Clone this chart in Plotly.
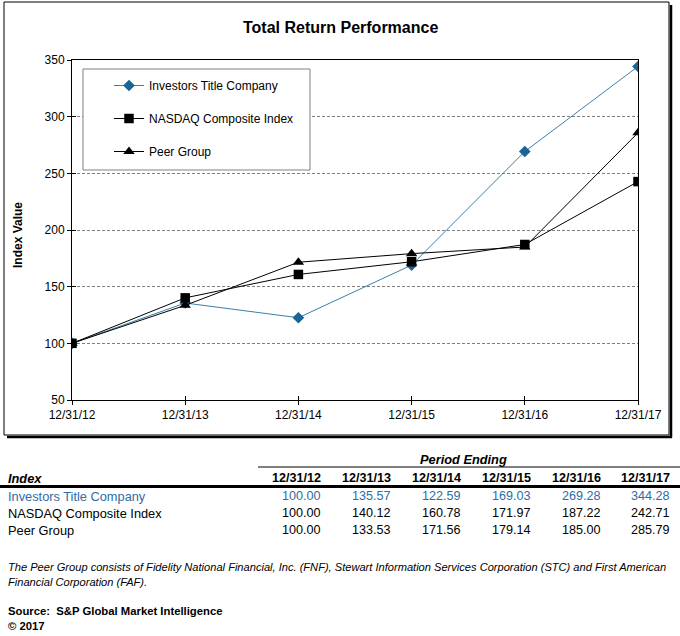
import plotly.graph_objects as go

W, H = 680, 636

dates = ["12/31/12", "12/31/13", "12/31/14", "12/31/15", "12/31/16", "12/31/17"]
itc = [100.00, 135.57, 122.59, 169.03, 269.28, 344.28]
nasdaq = [100.00, 140.12, 160.78, 171.97, 187.22, 242.71]
peer = [100.00, 133.53, 171.56, 179.14, 185.00, 285.79]
series_names = ["Investors Title Company", "NASDAQ Composite Index", "Peer Group"]

title = "Total Return Performance"
y_title = "Index Value"
footnote1 = "The Peer Group consists of Fidelity National Financial, Inc. (FNF), Stewart Information Services Corporation (STC) and First American"
footnote2 = "Financial Corporation (FAF)."
source1 = "Source:  S&P Global Market Intelligence"
source2 = "\u00a9 2017"

FONT = "Liberation Sans"
BLUE_LINE = "#3C7FA8"
BLUE_MK = "#1B6496"
BLUE_TXT = "#2E6CA3"


def px(x):
    return x / W


def py(y):
    return 1 - y / H


def label(text, x, y, size=12, color="black", xanchor="left", angle=0):
    return dict(text=text, x=px(x), y=py(y), xref="paper", yref="paper", xanchor=xanchor,
                yanchor="middle", showarrow=False, textangle=angle,
                font=dict(family=FONT, size=size, color=color))


fig = go.Figure()
fig.add_trace(go.Scatter(x=dates, y=itc, name=series_names[0], mode="lines+markers",
                         line=dict(color=BLUE_LINE, width=1),
                         marker=dict(symbol="diamond", size=9, color=BLUE_MK),
                         legendgroup="a"))
fig.add_trace(go.Scatter(x=dates, y=nasdaq, name=series_names[1], mode="lines+markers",
                         line=dict(color="black", width=1),
                         marker=dict(symbol="square", size=9.5, color="black"),
                         legendgroup="b"))
fig.add_trace(go.Scatter(x=dates, y=peer, name=series_names[2], mode="lines+markers",
                         line=dict(color="black", width=1),
                         marker=dict(symbol="triangle-up", size=10, color="black"),
                         legendgroup="c"))
# helper trace so the overlay axes (inner half of crossing ticks) are drawn
fig.add_trace(go.Scatter(x=[], y=[], xaxis="x2", yaxis="y2", showlegend=False, hoverinfo="skip"))

shapes = []
# outer frame with shadow
shapes.append(dict(type="rect", xref="paper", yref="paper", x0=px(4), x1=px(669), y0=py(2), y1=py(435),
                   line=dict(color="black", width=1), layer="below"))
shapes.append(dict(type="line", xref="paper", yref="paper", x0=px(671), x1=px(671), y0=py(5), y1=py(437.5),
                   line=dict(color="black", width=2.5), layer="below"))
shapes.append(dict(type="line", xref="paper", yref="paper", x0=px(7), x1=px(672), y0=py(437), y1=py(437),
                   line=dict(color="black", width=2.5), layer="below"))
# legend box
shapes.append(dict(type="rect", xref="paper", yref="paper", x0=px(83), x1=px(310), y0=py(69), y1=py(170),
                   line=dict(color="#808080", width=1), fillcolor="white", layer="above"))
# table lines
shapes.append(dict(type="line", xref="paper", yref="paper", x0=px(258), x1=px(680), y0=py(467), y1=py(467),
                   line=dict(color="black", width=1)))
shapes.append(dict(type="line", xref="paper", yref="paper", x0=px(0), x1=px(680), y0=py(486.5), y1=py(486.5),
                   line=dict(color="black", width=3)))

ann = []
ann.append(label("<b>" + title + "</b>", 340, 27, size=16, xanchor="center"))
ann.append(label("<b>" + y_title + "</b>", 18, 235, size=12, xanchor="center", angle=-90))
ann.append(label("<b><i>Period Ending</i></b>", 463, 460, size=12.8, xanchor="center"))
ann.append(label("<b><i>Index</i></b>", 6, 478, size=12.8))
col_right = [323, 393, 463, 533, 603, 672]
for d, xr in zip(dates, col_right):
    ann.append(label("<b>" + d + "</b>", xr, 478, size=12.6, xanchor="right"))
rows = [(series_names[0], itc, BLUE_TXT, 496), (series_names[1], nasdaq, "black", 513),
        (series_names[2], peer, "black", 530)]
for name, vals, col, yy in rows:
    ann.append(label(name, 6, yy, size=12.8, color=col))
    for v, xr in zip(vals, col_right):
        ann.append(label(f"{v:.2f}", xr, yy, size=12.6, color=col, xanchor="right"))
ann.append(label("<i>" + footnote1 + "</i>", 6, 567, size=11.1))
ann.append(label("<i>" + footnote2 + "</i>", 6, 582, size=11.1))
ann.append(label("<b>" + source1 + "</b>", 6, 611, size=11.3))
ann.append(label("<b>" + source2 + "</b>", 6, 626, size=11.3))

xdom = [px(72), px(638)]
ydom = [py(400), py(60)]

fig.update_layout(
    width=W, height=H,
    margin=dict(l=0, r=0, t=0, b=0, pad=0, autoexpand=False),
    paper_bgcolor="white", plot_bgcolor="white",
    font=dict(family=FONT, size=12, color="black"),
    showlegend=True,
    legend=dict(x=px(109), y=py(71), xanchor="left", yanchor="top", bgcolor="rgba(0,0,0,0)",
                borderwidth=0, font=dict(family=FONT, size=12, color="black"),
                tracegroupgap=14, itemwidth=30),
    xaxis=dict(domain=xdom, type="category", range=[0, 5], showgrid=False,
               showline=True, linecolor="black", linewidth=1, mirror=True,
               ticks="outside", ticklen=4, tickcolor="black", automargin=False,
               tickfont=dict(family=FONT, size=12, color="black"), anchor="y", zeroline=False),
    yaxis=dict(domain=ydom, range=[50, 350], dtick=50, tick0=50, showgrid=True,
               gridcolor="#808080", griddash="3px,2px", gridwidth=1,
               showline=True, linecolor="black", linewidth=1, mirror=True,
               ticks="outside", ticklen=4, tickcolor="black", automargin=False,
               tickfont=dict(family=FONT, size=12, color="black"), anchor="x", zeroline=False),
    xaxis2=dict(domain=xdom, overlaying="x", type="linear", range=[0, 5], dtick=1, tick0=0,
                showgrid=False, showline=False, ticks="inside", ticklen=4, tickcolor="black",
                showticklabels=False, anchor="y2", zeroline=False, automargin=False),
    yaxis2=dict(domain=ydom, overlaying="y", range=[50, 350], dtick=50, tick0=50,
                showgrid=False, showline=False, ticks="inside", ticklen=4, tickcolor="black",
                showticklabels=False, anchor="x2", zeroline=False, automargin=False),
    shapes=shapes,
    annotations=ann,
)

fig.write_html("out.html", config={"displayModeBar": False},
               post_script="document.body.style.margin='0';document.body.style.padding='0';"
                           "document.body.style.overflow='hidden';")
